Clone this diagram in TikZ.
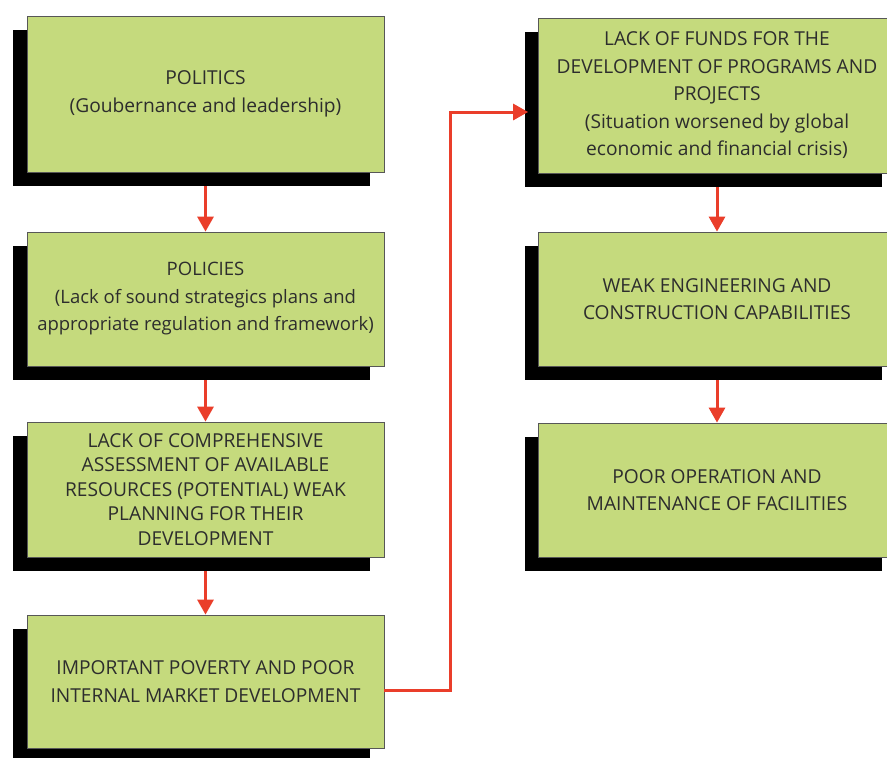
\documentclass[tikz,border=0pt]{standalone}
\usepackage{fontspec}
\setmainfont{Open Sans}
\usetikzlibrary{arrows.meta,shadows}
\definecolor{boxgreen}{RGB}{197,218,125}
\definecolor{flowred}{RGB}{234,62,42}
\definecolor{inkgray}{RGB}{45,45,45}
\begin{document}
\begin{tikzpicture}[x=1pt,y=-1pt,
  causebox/.style={draw=inkgray!80, line width=0.8pt, fill=boxgreen,
    minimum width=357pt, align=center, inner sep=0pt,
    text=inkgray, font=\fontsize{19.2}{27.5}\selectfont,
    general shadow={fill=black, shadow xshift=-14pt, shadow yshift=-14pt}},
  flow/.style={draw=flowred, line width=3pt,
    -{Triangle[length=15pt,width=16pt]}}
]
\clip (0,0) rectangle (887,758);
\fill[white] (0,0) rectangle (887,758);

% left column
\node[causebox, minimum height=156pt] (L1) at (205.5,94)
  {POLITICS\\(Goubernance and leadership)};
\node[causebox, minimum height=134pt, font=\fontsize{18.5}{27.5}\selectfont] (L2) at (205.5,299)
  {POLICIES\\(Lack of sound strategics plans and\\appropriate regulation and framework)};
\node[causebox, minimum height=135pt, font=\fontsize{19.2}{24.5}\selectfont] (L3) at (205.5,489.5)
  {LACK OF COMPREHENSIVE\\ASSESSMENT OF AVAILABLE\\RESOURCES (POTENTIAL) WEAK\\PLANNING FOR THEIR\\DEVELOPMENT};
\node[causebox, minimum height=133pt] (L4) at (205.5,681.5)
  {IMPORTANT POVERTY AND POOR\\INTERNAL MARKET DEVELOPMENT};

% right column
\node[causebox, minimum height=155pt] (R1) at (717,95.5)
  {LACK OF FUNDS FOR THE\\DEVELOPMENT OF PROGRAMS AND\\PROJECTS\\(Situation worsened by global\\economic and financial crisis)};
\node[causebox, minimum height=134pt] (R2) at (717,299)
  {WEAK ENGINEERING AND\\CONSTRUCTION CAPABILITIES};
\node[causebox, minimum height=134pt] (R3) at (717,490)
  {POOR OPERATION AND\\MAINTENANCE OF FACILITIES};

% connectors
\draw[flow] ([yshift=-14pt]L1.south) -- (L2.north);
\draw[flow] ([yshift=-14pt]L2.south) -- (L3.north);
\draw[flow] ([yshift=-14pt]L3.south) -- (L4.north);
\draw[flow] ([yshift=-8.5pt]L4.east) -- ++(66,0) |- ([xshift=-10pt,yshift=-16.5pt]R1.west);
\draw[flow] ([yshift=-14pt]R1.south) -- (R2.north);
\draw[flow] ([yshift=-14pt]R2.south) -- (R3.north);
\end{tikzpicture}
\end{document}
